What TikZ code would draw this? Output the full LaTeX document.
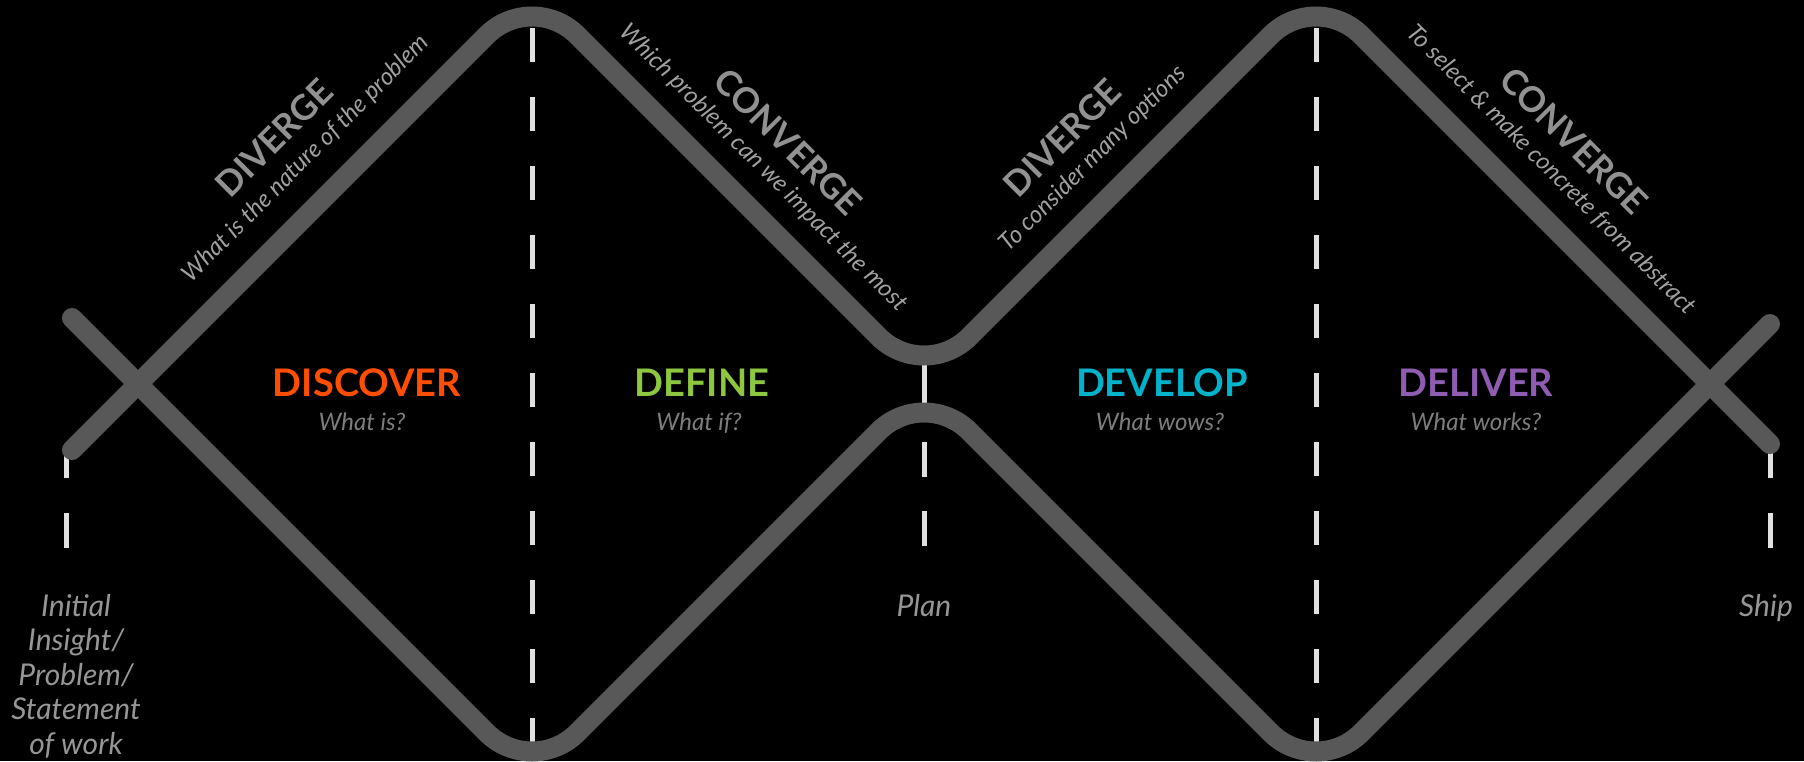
\documentclass[tikz,border=0pt]{standalone}
\usepackage{fontspec}
\setmainfont{Lato}
\definecolor{trackgray}{RGB}{88,88,88}
\definecolor{dashwhite}{RGB}{225,225,225}
\definecolor{modegray}{RGB}{145,145,145}
\definecolor{subgray}{RGB}{160,160,160}
\definecolor{qgray}{RGB}{125,125,125}
\definecolor{endgray}{RGB}{150,150,150}
\definecolor{cdiscover}{RGB}{255,78,0}
\definecolor{cdefine}{RGB}{141,198,63}
\definecolor{cdevelop}{RGB}{0,178,202}
\definecolor{cdeliver}{RGB}{142,92,176}
\begin{document}
\begin{tikzpicture}[x=1pt,y=-1pt,
  track/.style={line width=20pt, draw=trackgray, rounded corners=64pt, line cap=round},
  guide/.style={line width=5pt, draw=dashwhite},
  phase/.style={font=\fontsize{38}{42}\selectfont\bfseries, anchor=base, inner sep=0pt},
  question/.style={font=\fontsize{24}{28}\selectfont\itshape, text=qgray, anchor=base, inner sep=0pt},
  mode/.style={font=\fontsize{35}{38}\selectfont\bfseries, text=modegray, inner sep=0pt},
  modesub/.style={font=\fontsize{24}{26}\selectfont\itshape, text=subgray, inner sep=0pt},
  endlabel/.style={font=\fontsize{30}{34.5}\selectfont\itshape, text=endgray, inner sep=0pt, align=center}
]
\useasboundingbox (0,0) rectangle (1804,761);
\fill[black] (0,0) rectangle (1804,761);
% guides
\draw[guide, dash pattern=on 34pt off 35pt] (532,28) -- (532,745);
\draw[guide, dash pattern=on 34pt off 35pt] (1316,28) -- (1316,745);
\draw[guide] (924,350) -- (924,420);
\draw[guide] (924,442) -- (924,477);
\draw[guide] (924,511) -- (924,546);
\draw[guide] (66,445) -- (66,478);
\draw[guide] (66,513) -- (66,548);
\draw[guide] (1770,445) -- (1770,478);
\draw[guide] (1770,513) -- (1770,548);
% tracks
\coordinate (Ls) at (72,450);
\coordinate (P1) at (532,-10);
\coordinate (V1) at (924,382);
\coordinate (P2) at (1316,-10);
\coordinate (Le) at (1770,444);
\coordinate (Ms) at (72,318);
\coordinate (B1) at (532,778);
\coordinate (H1) at (924,386);
\coordinate (B2) at (1316,778);
\coordinate (Me) at (1770,324);
\draw[track] (Ls) -- (P1) -- (V1) -- (P2) -- (Le);
\draw[track] (Ms) -- (B1) -- (H1) -- (B2) -- (Me);
% phases
\node[phase, text=cdiscover] (discover) at (367,396) {DISCOVER};
\node[question] (whatis) at (362,430) {What is?};
\node[phase, text=cdefine] (define) at (702,396) {DEFINE};
\node[question] (whatif) at (699,430) {What if?};
\node[phase, text=cdevelop] (develop) at (1162,396) {DEVELOP};
\node[question] (whatwows) at (1160,430) {What wows?};
\node[phase, text=cdeliver] (deliver) at (1476,396) {DELIVER};
\node[question] (whatworks) at (1476,430) {What works?};
% modes
\node[mode, rotate=45] (div1) at (274,138) {DIVERGE};
\node[modesub, rotate=45] (div1s) at (306,159) {What is the nature of the problem};
\node[mode, rotate=-45] (con1) at (788,142) {CONVERGE};
\node[modesub, rotate=-45] (con1s) at (763,168) {Which problem can we impact the most};
\node[mode, rotate=45] (div2) at (1062,138) {DIVERGE};
\node[modesub, rotate=45] (div2s) at (1093,159) {To consider many options};
\node[mode, rotate=-45] (con2) at (1574,141) {CONVERGE};
\node[modesub, rotate=-45] (con2s) at (1551,170) {To select \& make concrete from abstract};
% end labels
\node[endlabel, anchor=north] (start) at (76,594) {Initial\\Insight/\\Problem/\\Statement\\of work};
\node[endlabel, anchor=base] (plan) at (924,616) {Plan};
\node[endlabel, anchor=base] (ship) at (1766,616) {Ship};
\end{tikzpicture}
\end{document}
